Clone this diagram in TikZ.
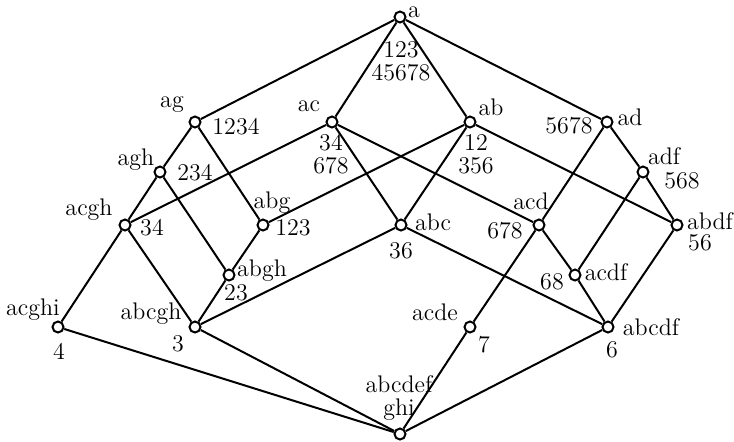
\documentclass[tikz,border=0pt]{standalone}
\begin{document}
\begin{tikzpicture}[x=0.5pt, y=-0.5pt,
        conc/.style={circle, draw, line width=1pt, fill=white, inner sep=0pt, minimum size=5.5pt},
        lab/.style={inner sep=0pt, align=center, font=\fontsize{12pt}{11.5pt}\selectfont}]
        \useasboundingbox (0,0) rectangle (734,441);

        % TOP
        \node[conc] (a) at (400,17) {};
        \node[lab] (aI) at (414,12) {a};
        \node[lab] (aE) at (401,61) {123\\45678};

        % LIVELLO 1
        \node[conc] (ag) at (195,122) {};
        \node[lab] (agI) at (172,105) {ag};
        \node[lab] (agE) at (236,127) {1234};
        \node[conc] (ac) at (332,122) {};
        \node[lab] (acI) at (309,106) {ac};
        \node[lab] (acE) at (331,154) {34\\678};
        \node[conc] (ab) at (470,122) {};
        \node[lab] (abI) at (491,107) {ab};
        \node[lab] (abE) at (476,154) {12\\356};
        \node[conc] (ad) at (607,122) {};
        \node[lab] (adI) at (630,117) {ad};
        \node[lab] (adE) at (569,126) {5678};

        % LIVELLO 2
        \node[conc] (agh) at (160,172) {};
        \node[lab] (aghI) at (136,160) {agh};
        \node[lab] (aghE) at (195,173) {234};
        \node[conc] (adf) at (643,172) {};
        \node[lab] (adfI) at (664,156) {adf};
        \node[lab] (adfE) at (682,181) {568};

        % LIVELLO 3
        \node[conc] (acgh) at (125,225) {};
        \node[lab] (acghI) at (89,210) {acgh};
        \node[lab] (acghE) at (152,228) {34};
        \node[conc] (abg) at (263,225) {};
        \node[lab] (abgI) at (272,203) {abg};
        \node[lab] (abgE) at (293,228) {123};
        \node[conc] (abc) at (401,225) {};
        \node[lab] (abcI) at (433,222) {abc};
        \node[lab] (abcE) at (401,251) {36};
        \node[conc] (acd) at (539,225) {};
        \node[lab] (acdI) at (531,201) {acd};
        \node[lab] (acdE) at (505,231) {678};
        \node[conc] (abdf) at (677,225) {};
        \node[lab] (abdfI) at (710,221) {abdf};
        \node[lab] (abdfE) at (700,243) {56};

        % LIVELLO 4
        \node[conc] (abgh) at (229,275) {};
        \node[lab] (abghI) at (262,271) {abgh};
        \node[lab] (abghE) at (236,293) {23};
        \node[conc] (acdf) at (575,275) {};
        \node[lab] (acdfI) at (606,272) {acdf};
        \node[lab] (acdfE) at (552,282) {68};

        % LIVELLO 5
        \node[conc] (acghi) at (58,327) {};
        \node[lab] (acghiI) at (33,310) {acghi};
        \node[lab] (acghiE) at (59,351) {4};
        \node[conc] (abcgh) at (195,327) {};
        \node[lab] (abcghI) at (151,314) {abcgh};
        \node[lab] (abcghE) at (178,344) {3};
        \node[conc] (acde) at (470,327) {};
        \node[lab] (acdeI) at (435,312) {acde};
        \node[lab] (acdeE) at (484,345) {7};
        \node[conc] (abcdf) at (608,327) {};
        \node[lab] (abcdfI) at (651,327) {abcdf};
        \node[lab] (abcdfE) at (612,350) {6};

        % BOTTOM
        \node[conc] (bot) at (400,434) {};
        \node[lab] (botI) at (399,398) {abcdef\\ghi};

        % ARCHI
        \draw[line width=1pt] (a) -- (ag);
        \draw[line width=1pt] (a) -- (ac);
        \draw[line width=1pt] (a) -- (ab);
        \draw[line width=1pt] (a) -- (ad);
        \draw[line width=1pt] (ag) -- (agh);
        \draw[line width=1pt] (ag) -- (abg);
        \draw[line width=1pt] (ac) -- (acgh);
        \draw[line width=1pt] (ac) -- (abc);
        \draw[line width=1pt] (ac) -- (acd);
        \draw[line width=1pt] (ab) -- (abg);
        \draw[line width=1pt] (ab) -- (abc);
        \draw[line width=1pt] (ab) -- (abdf);
        \draw[line width=1pt] (ad) -- (acd);
        \draw[line width=1pt] (ad) -- (adf);
        \draw[line width=1pt] (agh) -- (acgh);
        \draw[line width=1pt] (agh) -- (abgh);
        \draw[line width=1pt] (adf) -- (acdf);
        \draw[line width=1pt] (adf) -- (abdf);
        \draw[line width=1pt] (acgh) -- (acghi);
        \draw[line width=1pt] (acgh) -- (abcgh);
        \draw[line width=1pt] (abg) -- (abgh);
        \draw[line width=1pt] (abc) -- (abcgh);
        \draw[line width=1pt] (abc) -- (abcdf);
        \draw[line width=1pt] (acd) -- (acde);
        \draw[line width=1pt] (acd) -- (acdf);
        \draw[line width=1pt] (abdf) -- (abcdf);
        \draw[line width=1pt] (abgh) -- (abcgh);
        \draw[line width=1pt] (acdf) -- (abcdf);
        \draw[line width=1pt] (acghi) -- (bot);
        \draw[line width=1pt] (abcgh) -- (bot);
        \draw[line width=1pt] (acde) -- (bot);
        \draw[line width=1pt] (abcdf) -- (bot);
    \end{tikzpicture}
\end{document}
